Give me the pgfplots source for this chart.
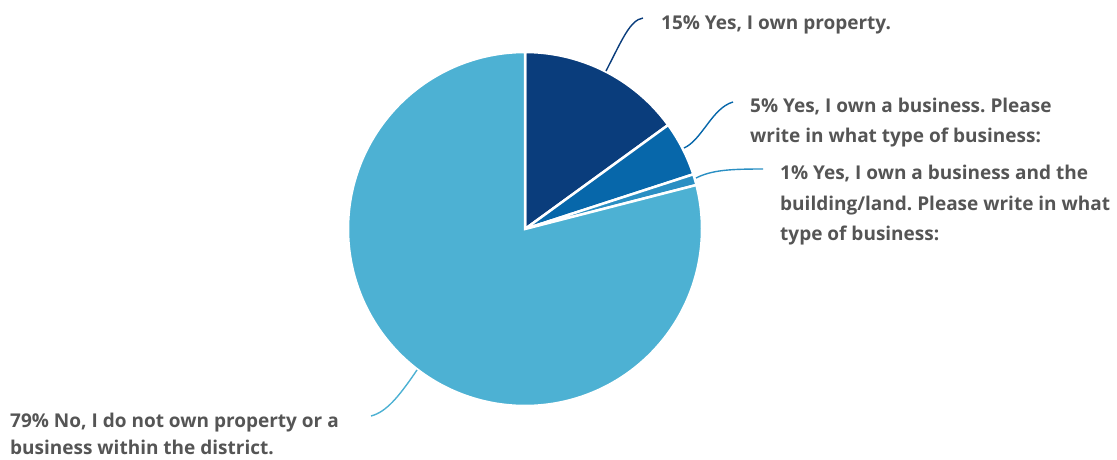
\documentclass[border=0pt]{standalone}
\usepackage{pgfplots}
\pgfplotsset{compat=1.18}
\usepackage{fontspec}
\setmainfont{Open Sans}
\frenchspacing
\definecolor{cA}{HTML}{0A3D7C}
\definecolor{cB}{HTML}{0767AA}
\definecolor{cC}{HTML}{2A8FC3}
\definecolor{cD}{HTML}{4DB1D3}
\definecolor{txt}{HTML}{555555}
% survey shares (percent)
\def\vA{15}\def\vB{5}\def\vC{1}\def\vD{79}
\pgfmathsetmacro\aA{90}
\pgfmathsetmacro\aB{\aA-3.6*\vA}
\pgfmathsetmacro\aC{\aB-3.6*\vB}
\pgfmathsetmacro\aD{\aC-3.6*\vC}
\pgfmathsetmacro\aE{\aD-3.6*\vD}
\begin{document}
\begin{tikzpicture}
\begin{axis}[
  hide axis, scale only axis, clip=false,
  width=1117pt, height=459pt,
  xmin=0, xmax=1117, ymin=0, ymax=459, y dir=reverse,
]
\addplot[fill=cA, draw=white, line width=2.5pt, domain=\aB:\aA, samples=80, variable=\t]
  ({525+177*cos(t)},{229-177*sin(t)}) -- (axis cs:525,229) -- cycle;
\addplot[fill=cB, draw=white, line width=2.5pt, domain=\aC:\aB, samples=40, variable=\t]
  ({525+177*cos(t)},{229-177*sin(t)}) -- (axis cs:525,229) -- cycle;
\addplot[fill=cC, draw=white, line width=2.5pt, domain=\aD:\aC, samples=10, variable=\t]
  ({525+177*cos(t)},{229-177*sin(t)}) -- (axis cs:525,229) -- cycle;
\addplot[fill=cD, draw=white, line width=2.5pt, domain=\aE:\aD, samples=300, variable=\t]
  ({525+177*cos(t)},{229-177*sin(t)}) -- (axis cs:525,229) -- cycle;
% leader lines
\draw[cA, line width=1.4pt] (axis cs:606,71) .. controls (axis cs:622,40) and (axis cs:630,20) .. (axis cs:643,18);
\draw[cB, line width=1.4pt] (axis cs:684,148) .. controls (axis cs:702,140) and (axis cs:712,108) .. (axis cs:733,102);
\draw[cC, line width=1.4pt] (axis cs:696,178) .. controls (axis cs:712,170) and (axis cs:730,169) .. (axis cs:763,169);
\draw[cD, line width=1.4pt] (axis cs:417,370) .. controls (axis cs:398,398) and (axis cs:386,412) .. (axis cs:371,416);
% labels
\begin{scope}[every node/.style={anchor=base west, inner sep=0pt, text=txt, font=\fontsize{19}{22}\selectfont\bfseries}]
\node at (axis cs:661,29) {15\% Yes, I own property.};
\node at (axis cs:750,112) {5\% Yes, I own a business. Please};
\node at (axis cs:750,142) {write in what type of business:};
\node at (axis cs:780,179) {1\% Yes, I own a business and the};
\node at (axis cs:780,210) {building/land. Please write in what};
\node at (axis cs:780,240) {type of business:};
\node at (axis cs:10,427) {79\% No, I do not own property or a};
\node at (axis cs:10,454) {business within the district.};
\end{scope}
\end{axis}
\pgfresetboundingbox
\path (current axis.south west) rectangle (current axis.north east);
\end{tikzpicture}
\end{document}
